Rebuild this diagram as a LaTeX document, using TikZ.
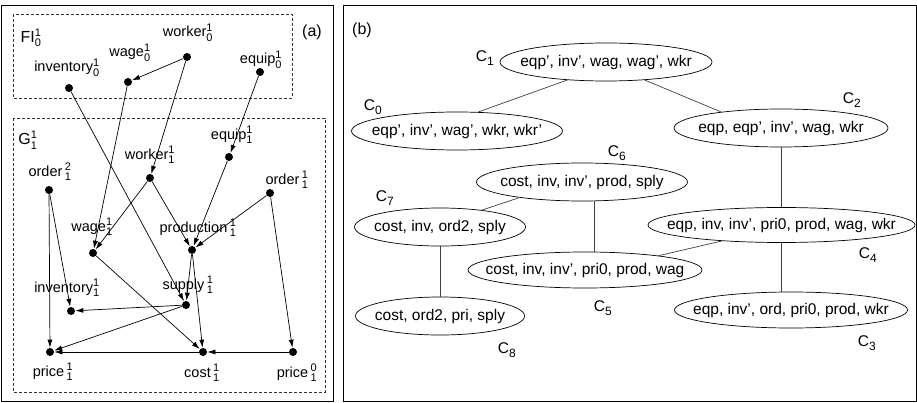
\documentclass[tikz,border=0pt]{standalone}
\usepackage{fontspec}
\usepackage{amsmath}
\setmainfont{Liberation Sans}
\usetikzlibrary{shapes.geometric,arrows.meta}
\newcommand{\dg}[1]{\text{\fontsize{11}{11}\selectfont #1}}
\newcommand{\sx}[2]{$^{\dg{#1}}_{\dg{#2}}$}
\newcommand{\cn}[1]{C$_{\text{\fontsize{12}{12}\selectfont #1}}$}

\begin{document}
\begin{tikzpicture}[x=1pt,y=-1pt,line width=0.7pt,
  dot/.style={circle,fill,inner sep=0pt,minimum size=8pt},
  lab/.style={font=\fontsize{14.5}{16}\selectfont,inner sep=0pt},
  big/.style={font=\fontsize{16}{18}\selectfont,inner sep=0pt},
  dep/.style={-{Latex[length=8pt,width=5pt]}},
  frame/.style={line width=0.6pt,black!80,dash pattern=on 3pt off 2pt},
  clq/.style={ellipse,draw,inner sep=0pt,minimum height=38pt,font=\fontsize{15.5}{17}\selectfont},
  cl/.style={font=\fontsize{15.5}{17}\selectfont,inner sep=0pt},
  tie/.style={black!75}]
  \useasboundingbox (0,0) rectangle (917,403);
  % panel (a)
  \draw (1.5,5) rectangle (333,401);
  \draw[frame] (13,14) rectangle (292,98);
  \draw[frame] (13,118) rectangle (325,392);
  \node[big] (tga) at (312,32) {(a)};
  \node[big] (fi) at (31,38) {FI\sx{1}{0}};
  \node[big] (g) at (28,140) {G\sx{1}{1}};

  \node[dot] (wkr0) at (187,57) {};
  \node[dot] (eqp0) at (260,72) {};
  \node[dot] (wag0) at (128,82) {};
  \node[dot] (inv0) at (69,88) {};
  \node[dot] (eqp1) at (229,157) {};
  \node[dot] (wkr1) at (150,178) {};
  \node[dot] (ordb) at (49,190) {};
  \node[dot] (orda) at (270,193) {};
  \node[dot] (wag1) at (93,253) {};
  \node[dot] (prod1) at (192,250) {};
  \node[dot] (sply1) at (186,305) {};
  \node[dot] (inv1) at (71,311) {};
  \node[dot] (pri1) at (50,352) {};
  \node[dot] (cost1) at (203,352) {};
  \node[dot] (pri0) at (293,352) {};

  \node[lab] (wkr0l) at (188,33) {worker\sx{1}{0}};
  \node[lab] (eqp0l) at (261,60) {equip\sx{1}{0}};
  \node[lab] (wag0l) at (130,53) {wage\sx{1}{0}};
  \node[lab] (inv0l) at (67,68) {inventory\sx{1}{0}};
  \node[lab] (eqp1l) at (232,135) {equip\sx{1}{1}};
  \node[lab] (wkr1l) at (150,155) {worker\sx{1}{1}};
  \node[lab] (ordbl) at (50,172) {order\,\sx{2}{1}};
  \node[lab] (ordal) at (287,180) {order\,\sx{1}{1}};
  \node[lab] (wag1l) at (92,227) {wage\sx{1}{1}};
  \node[lab] (prod1l) at (198,228) {production\,\sx{1}{1}};
  \node[lab] (sply1l) at (188,285) {supply\,\sx{1}{1}};
  \node[lab] (inv1l) at (67,288) {inventory\sx{1}{1}};
  \node[lab] (pri1l) at (53,372) {price\,\sx{1}{1}};
  \node[lab] (cost1l) at (202,373) {cost\,\sx{1}{1}};
  \node[lab] (pri0l) at (297,373) {price\,\sx{0}{1}};

  \foreach \a/\b in {wkr0/wag0, wkr0/wkr1, eqp0/eqp1, inv0/sply1, wag0/wag1,
      wkr1/wag1, wkr1/prod1, eqp1/prod1, orda/prod1, orda/pri0, ordb/pri1,
      ordb/inv1, wag1/cost1, prod1/sply1, prod1/cost1, sply1/inv1,
      sply1/pri1, cost1/pri1, pri0/cost1}
    \draw[dep] (\a) -- (\b);

  % panel (b)
  \draw (343,5) rectangle (916.5,401);
  \node[big] (tgb) at (362,30) {(b)};

  \node[clq,minimum width=212pt] (c1) at (606,62) {\makebox[0pt]{eqp', inv', wag, wag', wkr}};
  \node[clq,minimum width=211pt] (c0) at (457,131) {\makebox[0pt]{eqp', inv', wag', wkr, wkr'}};
  \node[clq,minimum width=214pt] (c2) at (781,128) {\makebox[0pt]{eqp, eqp', inv', wag, wkr}};
  \node[clq,minimum width=211pt] (c6) at (582,182) {\makebox[0pt]{cost, inv, inv', prod, sply}};
  \node[clq,minimum width=171pt] (c7) at (440,227) {\makebox[0pt]{cost, inv, ord2, sply}};
  \node[clq,minimum width=169pt] (c8) at (440,316) {\makebox[0pt]{cost, ord2, pri, sply}};
  \node[clq,minimum width=234pt,minimum height=36pt] (c5) at (585,270) {\makebox[0pt]{cost, inv, inv', pri0, prod, wag}};
  \node[clq,minimum width=267pt,minimum height=35pt] (c4) at (781.5,225) {\makebox[0pt]{eqp, inv, inv', pri0, prod, wag, wkr}};
  \node[clq,minimum width=233pt,minimum height=36pt] (c3) at (791,310) {\makebox[0pt]{eqp, inv', ord, pri0, prod, wkr}};

  \node[cl] (c1l) at (485,58) {\cn{1}};
  \node[cl] (c0l) at (373,107) {\cn{0}};
  \node[cl] (c2l) at (852,100) {\cn{2}};
  \node[cl] (c6l) at (617,153) {\cn{6}};
  \node[cl] (c7l) at (385,198) {\cn{7}};
  \node[cl] (c8l) at (507,350) {\cn{8}};
  \node[cl] (c5l) at (603,308) {\cn{5}};
  \node[cl] (c4l) at (868,255) {\cn{4}};
  \node[cl] (c3l) at (867,343) {\cn{3}};

  \draw[tie] (c1.205) -- (c0.42);
  \draw[tie] (c1.335) -- (c2.165);
  \draw[tie] (c2.south) -- (c2.south |- c4.north);
  \draw[tie] (c4.195) -- (c5.11);
  \draw[tie] (c4.south) -- (c4.south |- c3.north);
  \draw[tie] (c6.302) -- (c6.302 |- c5.north);
  \draw[tie] (c6.194) -- (c7.22);
  \draw[tie] (c7.south) -- (c8.north);
\end{tikzpicture}
\end{document}
